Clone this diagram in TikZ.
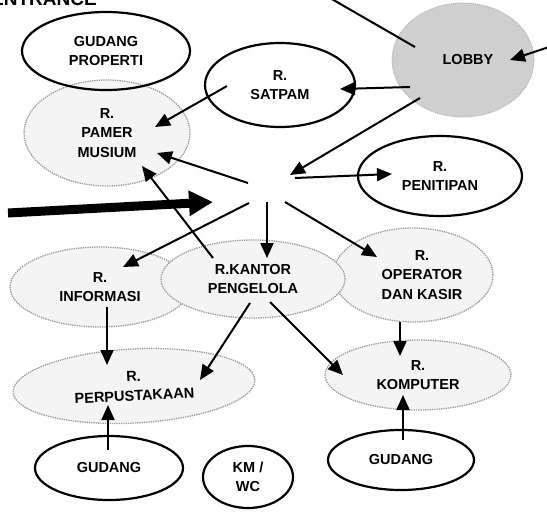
\documentclass[tikz,border=0pt]{standalone}
\usepackage{fontspec}
\setmainfont{Liberation Sans}
\usetikzlibrary{shapes.geometric,arrows.meta}
\tikzset{
  room/.style={ellipse, inner sep=0pt, align=center, font=\bfseries\fontsize{14.5}{19.5}\selectfont},
  solidroom/.style={room, draw=black, line width=2.2pt},
  dotroom/.style={room, draw=gray!80, densely dotted, line width=1.3pt, fill=gray!9},
  lobbyroom/.style={room, draw=gray!60, densely dotted, line width=1pt, fill=gray!38},
  conn/.style={draw=black, line width=2pt, -{Triangle[length=15pt,width=13pt]}},
  plain/.style={draw=black, line width=2pt},
  bigarrow/.style={draw=black, line width=9pt, -{Triangle[length=24pt,width=24pt]}}
}
\begin{document}
\begin{tikzpicture}[x=1pt,y=-1pt]
\useasboundingbox (0,0) rectangle (547,517);
\clip (0,0) rectangle (547,517);
\node[font=\bfseries\fontsize{19}{19}\selectfont, anchor=base east, inner sep=0pt] (title) at (97,5) {ENTRANCE};
% rooms
\node[dotroom, minimum width=166pt, minimum height=106pt] (pamer) at (107,133) {R.\\PAMER\\MUSIUM};
\node[solidroom, minimum width=168pt, minimum height=78pt] (gudprop) at (106,51) {GUDANG\\PROPERTI};
\node[solidroom, minimum width=150pt, minimum height=84pt] (satpam) at (280,85) {R.\\SATPAM};
\node[lobbyroom, minimum width=142pt, minimum height=114pt] (lobby) at (463,60) {\hspace*{10pt}LOBBY};
\node[solidroom, minimum width=164pt, minimum height=80pt] (penitipan) at (440,176) {R.\\PENITIPAN};
\node[dotroom, minimum width=180pt, minimum height=80pt] (informasi) at (100,287) {R.\\INFORMASI};
\node[dotroom, minimum width=160pt, minimum height=94pt] (operator) at (413,275) {\hspace*{18pt}R.\\\hspace*{18pt}OPERATOR\\\hspace*{18pt}DAN KASIR};
\node[dotroom, minimum width=184pt, minimum height=78pt] (kantor) at (253,279) {R.KANTOR\\PENGELOLA};
\node[dotroom, minimum width=242pt, minimum height=74pt, rotate=3] (perpus) at (134,386) {R.\\PERPUSTAKAAN};
\node[dotroom, minimum width=186pt, minimum height=70pt] (komputer) at (418,375) {R.\\KOMPUTER};
\node[solidroom, minimum width=148pt, minimum height=64pt] (gud1) at (109,468) {GUDANG};
\node[solidroom, minimum width=90pt, minimum height=62pt] (kmwc) at (248,477) {KM /\\WC};
\node[solidroom, minimum width=146pt, minimum height=60pt] (gud2) at (401,460) {GUDANG};
% coordinates
\coordinate (topin) at (330,-2);
\coordinate (lobbyA) at (415,47);
\coordinate (rightin) at (549,47);
\coordinate (lobbyB) at (510,60);
\coordinate (lobbyC) at (410,87);
\coordinate (satpamR) at (340,89);
\coordinate (satpamL) at (227,86);
\coordinate (pamerA) at (155,127);
\coordinate (lobbyD) at (420,98);
\coordinate (hubA) at (290,175);
\coordinate (hubB) at (248,183);
\coordinate (pamerB) at (157,153);
\coordinate (hubC) at (295,178);
\coordinate (penitipanL) at (392,174);
\coordinate (leftin) at (8,213);
\coordinate (hubD) at (213,202);
\coordinate (hubE) at (249,203);
\coordinate (informasiA) at (123,267);
\coordinate (hubF) at (267,202);
\coordinate (kantorA) at (267,258);
\coordinate (hubG) at (285,202);
\coordinate (operatorA) at (377,257);
\coordinate (kantorB) at (213,258);
\coordinate (pamerC) at (142,166);
\coordinate (informasiB) at (107,307);
\coordinate (perpusA) at (107,365);
\coordinate (kantorC) at (250,303);
\coordinate (perpusB) at (200,380);
\coordinate (kantorD) at (270,302);
\coordinate (komputerA) at (343,375);
\coordinate (operatorB) at (400,322);
\coordinate (komputerB) at (400,356);
\coordinate (gud1A) at (108,450);
\coordinate (perpusC) at (108,405);
\coordinate (gud2A) at (403,440);
\coordinate (komputerC) at (403,395);
% connectors
\draw[plain] (topin) -- (lobbyA);
\draw[conn] (rightin) -- (lobbyB);
\draw[conn] (lobbyC) -- (satpamR);
\draw[conn] (satpamL) -- (pamerA);
\draw[conn] (lobbyD) -- (hubA);
\draw[conn] (hubB) -- (pamerB);
\draw[conn] (hubC) -- (penitipanL);
\draw[bigarrow] (leftin) -- (hubD);
\draw[conn] (hubE) -- (informasiA);
\draw[conn] (hubF) -- (kantorA);
\draw[conn] (hubG) -- (operatorA);
\draw[conn] (kantorB) -- (pamerC);
\draw[conn] (informasiB) -- (perpusA);
\draw[conn] (kantorC) -- (perpusB);
\draw[conn] (kantorD) -- (komputerA);
\draw[conn] (operatorB) -- (komputerB);
\draw[conn] (gud1A) -- (perpusC);
\draw[conn] (gud2A) -- (komputerC);
\end{tikzpicture}
\end{document}
